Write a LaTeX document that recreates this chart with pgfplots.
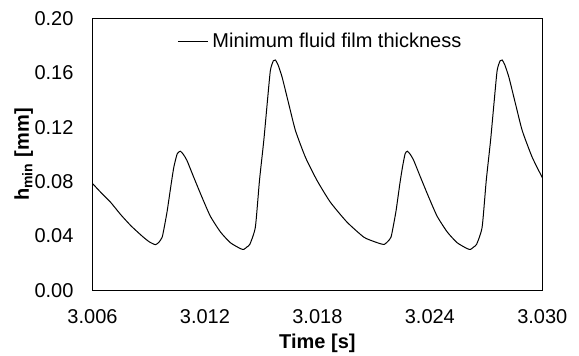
\documentclass[border=0pt]{standalone}
\usepackage{pgfplots}
\pgfplotsset{compat=1.18}
\usepackage{fontspec}
\setmainfont{Liberation Sans}
\begin{document}
\fontsize{10pt}{12pt}\selectfont
\begin{tikzpicture}
\path[use as bounding box] (-46.25pt,-32.85pt) rectangle (243.25pt,145.15pt);
\begin{axis}[
  scale only axis,
  width=224.9pt, height=135.8pt,
  xmin=3.006, xmax=3.030, ymin=0, ymax=0.20,
  xtick={3.006,3.012,3.018,3.024,3.030},
  ytick={0,0.04,0.08,0.12,0.16,0.20},
  xticklabels={3.006,3.012,3.018,3.024,3.030},
  yticklabels={0.00,0.04,0.08,0.12,0.16,0.20},
  major tick length=0pt,
  axis line style={black, line width=0.5pt},
  xticklabel style={yshift=-6pt},
  yticklabel style={xshift=-6pt},
  every axis x label/.style={at={(axis description cs:0.5,0)}, anchor=base, yshift=-29pt},
  every axis y label/.style={at={(axis description cs:0,0.5)}, xshift=-31.75pt, anchor=base, rotate=90},
  xlabel={\textbf{Time [s]}},
  ylabel={\textbf{h\textsubscript{min} [mm]}},
  legend style={draw=none, fill=none, at={(rel axis cs:0.188,0.915)}, anchor=west, inner sep=0pt, font=\fontsize{10pt}{12pt}\selectfont},
  legend image code/.code={\draw[#1] (0pt,0pt) -- (15pt,0pt);},
]
\addplot[black, line width=0.5pt, smooth, tension=0.35] coordinates {
(3.00601,0.0785) (3.00643,0.0723) (3.00696,0.0649) (3.00750,0.0558) (3.00803,0.0478)
(3.00840,0.0430) (3.00874,0.0388) (3.00905,0.0355) (3.00936,0.0336) (3.00955,0.0355)
(3.00972,0.0392) (3.00985,0.0480) (3.00999,0.0588) (3.01020,0.0785) (3.01034,0.0907)
(3.01052,0.1005) (3.01069,0.1024) (3.01085,0.1000) (3.01104,0.0956) (3.01140,0.0833)
(3.01184,0.0686) (3.01229,0.0545) (3.01283,0.0429) (3.01336,0.0350) (3.01389,0.0307)
(3.01407,0.0301) (3.01425,0.0320) (3.01440,0.0340) (3.01469,0.0465) (3.01491,0.0809)
(3.01514,0.1103) (3.01532,0.1373) (3.01549,0.1618) (3.01565,0.1690) (3.01576,0.1696)
(3.01590,0.1660) (3.01612,0.1568) (3.01647,0.1373) (3.01683,0.1176) (3.01736,0.0980)
(3.01798,0.0809) (3.01869,0.0649) (3.01958,0.0502) (3.02047,0.0392) (3.02100,0.0360)
(3.02136,0.0343) (3.02157,0.0338) (3.02176,0.0360) (3.02193,0.0392) (3.02206,0.0480)
(3.02220,0.0588) (3.02240,0.0785) (3.02254,0.0907) (3.02268,0.1005) (3.02280,0.1024)
(3.02296,0.1000) (3.02314,0.0956) (3.02350,0.0833) (3.02394,0.0686) (3.02439,0.0545)
(3.02493,0.0429) (3.02546,0.0350) (3.02599,0.0307) (3.02617,0.0301) (3.02635,0.0320)
(3.02650,0.0340) (3.02679,0.0465) (3.02701,0.0809) (3.02724,0.1103) (3.02742,0.1373)
(3.02759,0.1618) (3.02775,0.1690) (3.02786,0.1696) (3.02800,0.1660) (3.02822,0.1568)
(3.02857,0.1373) (3.02893,0.1176) (3.02946,0.0980) (3.03000,0.0830)
};
\addlegendentry{Minimum fluid film thickness}
\end{axis}
\end{tikzpicture}
\end{document}
